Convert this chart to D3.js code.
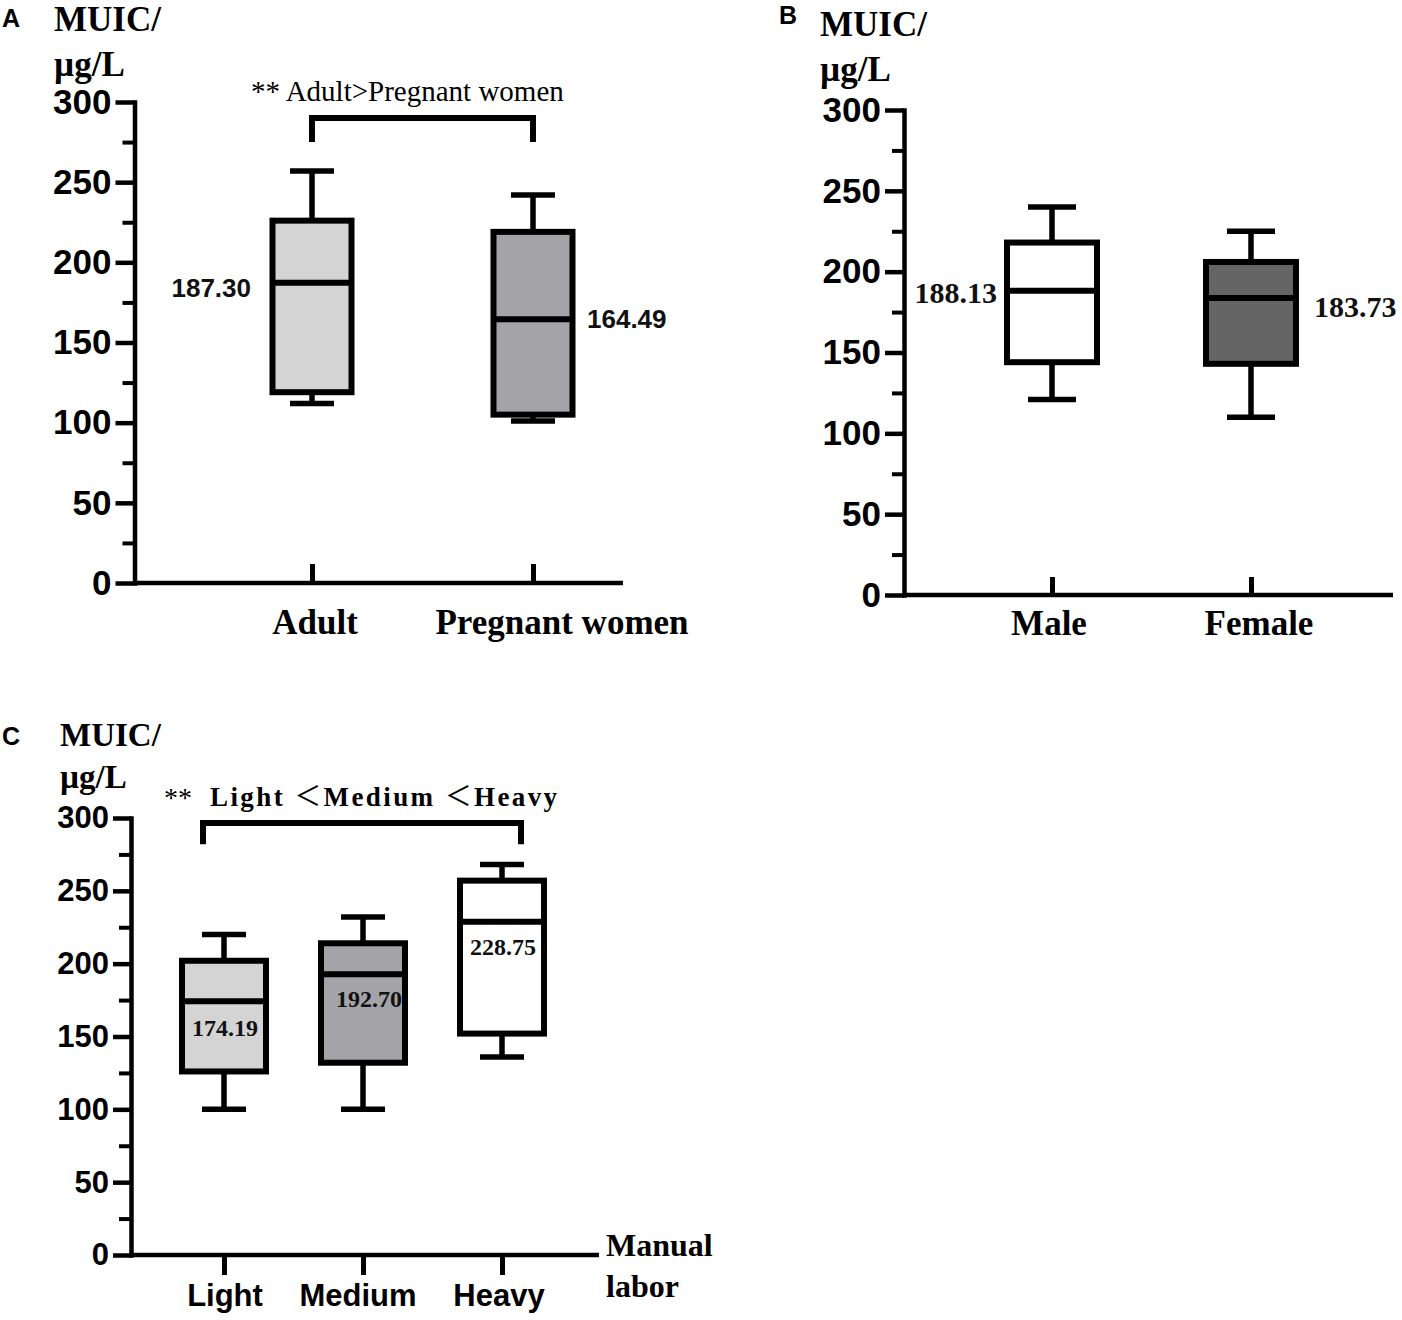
<!DOCTYPE html>
<html>
<head>
<meta charset="utf-8">
<script src="https://cdnjs.cloudflare.com/ajax/libs/d3/7.8.5/d3.min.js"></script>
<style>
  body { margin: 0; background: #fff; }
</style>
</head>
<body>
<div id="chart"></div>
<script>
// Panel A: adults vs pregnant women
const groupsA = ['Adult', 'Pregnant women'];
const minA = [112, 101];
const q1A = [119, 105];
const medA = [187.30, 164.49];
const q3A = [226, 219];
const maxA = [257, 242];

// Panel B: sex
const groupsB = ['Male', 'Female'];
const minB = [121, 110];
const q1B = [144, 143];
const medB = [188.13, 183.73];
const q3B = [218, 206];
const maxB = [240, 225];

// Panel C: manual labor
const groupsC = ['Light', 'Medium', 'Heavy'];
const minC = [100, 100, 136];
const q1C = [126, 132, 152];
const medC = [174.19, 192.70, 228.75];
const q3C = [202, 214, 257];
const maxC = [220, 232, 268];

const yTicks = [0, 50, 100, 150, 200, 250, 300];
const yMinorTicks = [25, 75, 125, 175, 225, 275];

const serif = '"Liberation Serif", "Times New Roman", serif';
const sans = '"Liberation Sans", Arial, sans-serif';
const cjk = '"Noto Sans CJK SC", "Noto Sans CJK JP", sans-serif';

const svg = d3.select('#chart')
    .append('svg')
    .attr('width', 1402)
    .attr('height', 1320);

function drawPanel(p) {
    const y = d3.scaleLinear().domain([0, 300]).range([p.y0, p.y300]);
    const x = d3.scalePoint().domain(p.groups).range(p.xRange);
    const g = svg.append('g');

    // panel letter and y title
    g.append('text').attr('x', p.letterX).attr('y', p.letterY)
        .attr('font-family', sans).attr('font-weight', 'bold').attr('font-size', 25)
        .text(p.letter);
    g.append('text').attr('x', p.titleX).attr('y', p.titleY)
        .attr('font-family', serif).attr('font-weight', 'bold').attr('font-size', p.titleFont)
        .text('MUIC/');
    g.append('text').attr('x', p.titleX).attr('y', p.titleY + p.titleGap)
        .attr('font-family', serif).attr('font-weight', 'bold').attr('font-size', p.titleFont)
        .text('µg/L');

    // minor y ticks
    const minor = g.append('g').attr('transform', `translate(${p.left},0)`)
        .call(d3.axisLeft(y).tickValues(yMinorTicks).tickSize(12).tickFormat('').tickSizeOuter(0));
    minor.select('.domain').remove();
    minor.selectAll('line').attr('stroke-width', 4);

    // major y ticks
    const ya = g.append('g').attr('transform', `translate(${p.left},0)`)
        .call(d3.axisLeft(y).tickValues(yTicks).tickSize(p.majorTick).tickPadding(4).tickSizeOuter(0));
    ya.select('.domain').attr('stroke-width', 4.5).attr('stroke-linecap', 'square');
    ya.selectAll('line').attr('stroke-width', 4.5);
    ya.selectAll('text')
        .attr('font-family', sans).attr('font-weight', 'bold').attr('font-size', p.tickFont);

    // x axis
    const xa = g.append('g').attr('transform', `translate(0,${p.y0})`)
        .call(d3.axisBottom(x).tickSize(p.xTick).tickFormat('').tickSizeOuter(0));
    xa.select('.domain').remove();
    xa.selectAll('line').attr('stroke-width', 5);
    g.append('line')
        .attr('x1', p.left).attr('x2', p.right)
        .attr('y1', p.y0).attr('y2', p.y0)
        .attr('stroke', '#000').attr('stroke-width', 4.5);

    g.selectAll('.xlab')
        .data(p.groups)
        .join('text')
        .attr('x', (d, i) => x(d) + p.xLabelDx[i])
        .attr('y', p.xLabelY)
        .attr('text-anchor', 'middle')
        .attr('font-family', p.xLabelFamily).attr('font-weight', 'bold').attr('font-size', p.xLabelFont)
        .text(d => d);

    // boxes
    const stats = p.groups.map((k, i) => ({
        k, min: p.min[i], q1: p.q1[i], med: p.med[i], q3: p.q3[i], max: p.max[i],
        fill: p.fills[i], lab: p.labelPos[i]
    }));
    const bw = p.boxW;
    const cw = p.capW;
    const box = g.selectAll('.box').data(stats).join('g').attr('class', 'box');

    box.append('line')
        .attr('x1', d => x(d.k)).attr('x2', d => x(d.k))
        .attr('y1', d => y(d.q3)).attr('y2', d => y(d.max))
        .attr('stroke', '#000').attr('stroke-width', 5.5);
    box.append('line')
        .attr('x1', d => x(d.k)).attr('x2', d => x(d.k))
        .attr('y1', d => y(d.q1)).attr('y2', d => y(d.min))
        .attr('stroke', '#000').attr('stroke-width', 5.5);
    box.append('line')
        .attr('x1', d => x(d.k) - cw / 2).attr('x2', d => x(d.k) + cw / 2)
        .attr('y1', d => y(d.max)).attr('y2', d => y(d.max))
        .attr('stroke', '#000').attr('stroke-width', 5.5);
    box.append('line')
        .attr('x1', d => x(d.k) - cw / 2).attr('x2', d => x(d.k) + cw / 2)
        .attr('y1', d => y(d.min)).attr('y2', d => y(d.min))
        .attr('stroke', '#000').attr('stroke-width', 5.5);
    box.append('rect')
        .attr('x', d => x(d.k) - bw / 2)
        .attr('y', d => y(d.q3))
        .attr('width', bw)
        .attr('height', d => y(d.q1) - y(d.q3))
        .attr('fill', d => d.fill)
        .attr('stroke', '#000').attr('stroke-width', 6);
    box.append('line')
        .attr('x1', d => x(d.k) - bw / 2).attr('x2', d => x(d.k) + bw / 2)
        .attr('y1', d => y(d.med)).attr('y2', d => y(d.med))
        .attr('stroke', '#000').attr('stroke-width', 6);
    box.append('text')
        .attr('x', d => x(d.k) + d.lab.dx)
        .attr('y', d => y(d.med) + d.lab.dy)
        .attr('dy', '0.35em')
        .attr('text-anchor', d => d.lab.anchor)
        .attr('font-family', p.medFamily).attr('font-weight', 'bold').attr('font-size', p.medFont)
        .attr('fill', '#111')
        .text(d => d3.format('.2f')(d.med));

    // significance bracket
    if (p.bracket) {
        const bx1 = x(p.groups[0]) + p.bracket.dx1;
        const bx2 = x(p.groups[p.groups.length - 1]) + p.bracket.dx2;
        g.append('path')
            .attr('d', `M${bx1},${y(p.bracket.leg)}V${y(p.bracket.bar)}H${bx2}V${y(p.bracket.leg)}`)
            .attr('fill', 'none').attr('stroke', '#000').attr('stroke-width', 6);
        p.bracket.texts.forEach(t => {
            const txt = g.append('text')
                .attr('x', t.x).attr('y', t.y)
                .attr('font-family', serif)
                .attr('font-weight', t.bold ? 'bold' : 'normal')
                .attr('font-size', t.size)
                .attr('letter-spacing', t.spacing || 0)
                .attr('fill', '#000');
            // pieces: plain strings in the serif face, objects in the CJK face
            t.parts.forEach(part => {
                const s = txt.append('tspan').text(typeof part === 'string' ? part : part.cjk);
                if (typeof part !== 'string') {
                    s.attr('font-family', cjk).attr('font-weight', 'normal');
                }
            });
        });
    }

    if (p.extra) p.extra(g);
}

drawPanel({
    letter: 'A', letterX: 2, letterY: 27,
    titleX: 54, titleY: 31, titleGap: 45, titleFont: 35,
    groups: groupsA, min: minA, q1: q1A, med: medA, q3: q3A, max: maxA,
    fills: ['#d4d4d4', '#a3a3a8'],
    y0: 583, y300: 102, left: 134.5, right: 623, xRange: [312, 533],
    majorTick: 19, tickFont: 35, xTick: -19,
    xLabelY: 634, xLabelDx: [3, 29], xLabelFamily: serif, xLabelFont: 35,
    boxW: 79, capW: 44,
    medFamily: sans, medFont: 26,
    labelPos: [{ anchor: 'end', dx: -61, dy: 5 }, { anchor: 'start', dx: 54, dy: 0 }],
    bracket: {
        dx1: 0, dx2: 0, bar: 290, leg: 275,
        texts: [{ x: 251, y: 101, size: 29, parts: ['** Adult>Pregnant women'] }]
    }
});

drawPanel({
    letter: 'B', letterX: 779, letterY: 24,
    titleX: 820, titleY: 36, titleGap: 45, titleFont: 35,
    groups: groupsB, min: minB, q1: q1B, med: medB, q3: q3B, max: maxB,
    fills: ['#ffffff', '#656565'],
    y0: 595, y300: 110, left: 904, right: 1393, xRange: [1052, 1251],
    majorTick: 19, tickFont: 35, xTick: -18,
    xLabelY: 635, xLabelDx: [-3, 8], xLabelFamily: serif, xLabelFont: 35,
    boxW: 90, capW: 48,
    medFamily: serif, medFont: 30,
    labelPos: [{ anchor: 'end', dx: -55, dy: 2 }, { anchor: 'start', dx: 63, dy: 9 }],
    bracket: null
});

drawPanel({
    letter: 'C', letterX: 2, letterY: 745,
    titleX: 60, titleY: 746, titleGap: 42, titleFont: 33,
    groups: groupsC, min: minC, q1: q1C, med: medC, q3: q3C, max: maxC,
    fills: ['#d4d4d4', '#a3a3a8', '#ffffff'],
    y0: 1255, y300: 818, left: 131, right: 599, xRange: [224, 502],
    majorTick: 18, tickFont: 31, xTick: 20,
    xLabelY: 1306, xLabelDx: [1, -5, -3], xLabelFamily: sans, xLabelFont: 31,
    boxW: 84, capW: 44,
    medFamily: serif, medFont: 24,
    labelPos: [{ anchor: 'middle', dx: 1, dy: 26 }, { anchor: 'middle', dx: 6, dy: 24 }, { anchor: 'middle', dx: 1, dy: 25 }],
    bracket: {
        dx1: -21, dx2: 19, bar: 296.5, leg: 282,
        texts: [
            { x: 164, y: 807, size: 28, parts: ['**'] },
            { x: 210, y: 806, size: 27, bold: true, spacing: 2.4,
              parts: ['Light ', { cjk: '＜' }, 'Medium ', { cjk: '＜' }, 'Heavy'] }
        ]
    },
    extra: g => {
        g.append('text').attr('x', 606).attr('y', 1256)
            .attr('font-family', serif).attr('font-weight', 'bold').attr('font-size', 32)
            .text('Manual');
        g.append('text').attr('x', 606).attr('y', 1297)
            .attr('font-family', serif).attr('font-weight', 'bold').attr('font-size', 32)
            .text('labor');
    }
});
</script>
</body>
</html>
